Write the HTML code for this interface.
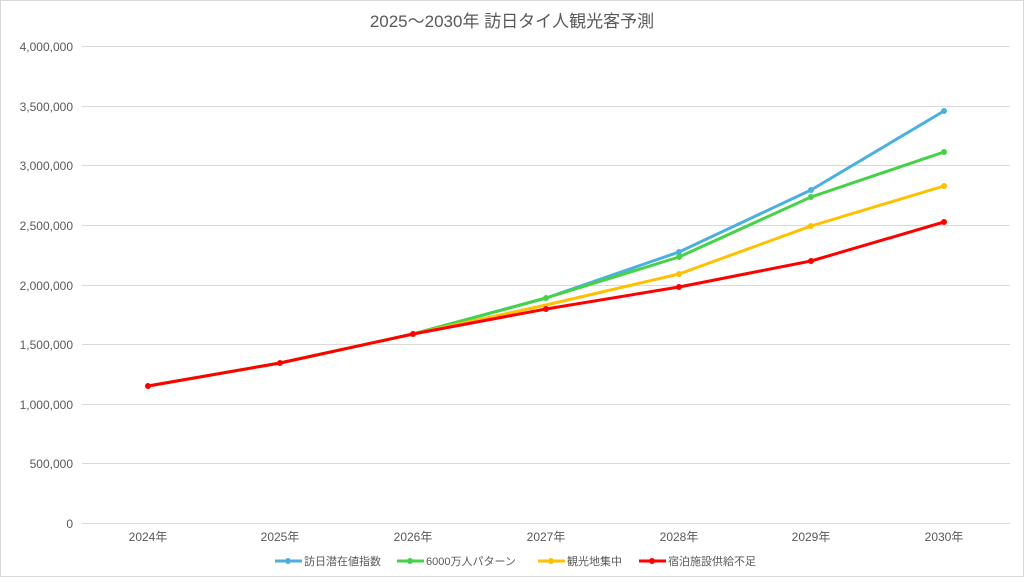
<!DOCTYPE html><html><head><meta charset="utf-8"><style>body{margin:0;background:#fff}svg text{font-family:"Liberation Sans","Noto Sans CJK JP",sans-serif}</style></head><body>
<svg width="1024" height="577" xmlns="http://www.w3.org/2000/svg">
<rect x="0.5" y="0.5" width="1023" height="576" fill="#fff" stroke="#d9d9d9"/>
<text x="512" y="27" font-size="17" fill="#595959" text-anchor="middle">2025～2030年  訪日タイ人観光客予測</text>
<g stroke="#d9d9d9" stroke-width="1">
<line x1="82" x2="1010" y1="46.5" y2="46.5"/><line x1="82" x2="1010" y1="106.5" y2="106.5"/><line x1="82" x2="1010" y1="165.5" y2="165.5"/><line x1="82" x2="1010" y1="225.5" y2="225.5"/><line x1="82" x2="1010" y1="285.5" y2="285.5"/><line x1="82" x2="1010" y1="344.5" y2="344.5"/><line x1="82" x2="1010" y1="404.5" y2="404.5"/><line x1="82" x2="1010" y1="463.5" y2="463.5"/><line x1="82" x2="1010" y1="523.5" y2="523.5"/></g>
<g font-size="12" fill="#595959" text-anchor="end">
<text x="73" y="51">4,000,000</text><text x="73" y="111">3,500,000</text><text x="73" y="170">3,000,000</text><text x="73" y="230">2,500,000</text><text x="73" y="290">2,000,000</text><text x="73" y="349">1,500,000</text><text x="73" y="409">1,000,000</text><text x="73" y="468">500,000</text><text x="73" y="528">0</text></g>
<g font-size="12" fill="#595959" text-anchor="middle">
<text x="148" y="541">2024年</text><text x="280" y="541">2025年</text><text x="413" y="541">2026年</text><text x="546" y="541">2027年</text><text x="679" y="541">2028年</text><text x="811" y="541">2029年</text><text x="944" y="541">2030年</text></g>
<g fill="none" stroke-width="3" stroke-linejoin="round">
<polyline stroke="#4bb0e0" points="148,386 280,363 413,334 546,298 679,252 811,190 944,111"/>
<polyline stroke="#46d246" points="148,386 280,363 413,334 546,298 679,257 811,197 944,152"/>
<polyline stroke="#ffc000" points="148,386 280,363 413,334 546,305 679,274 811,226 944,186"/>
<polyline stroke="#ff0000" points="148,386 280,363 413,334 546,309 679,287 811,261 944,222"/>
</g>
<g fill="#4bb0e0"><circle cx="679" cy="252" r="3"/><circle cx="811" cy="190" r="3"/><circle cx="944" cy="111" r="3"/></g>
<g fill="#46d246"><circle cx="546" cy="298" r="3"/><circle cx="679" cy="257" r="3"/><circle cx="811" cy="197" r="3"/><circle cx="944" cy="152" r="3"/></g>
<g fill="#ffc000"><circle cx="679" cy="274" r="3"/><circle cx="811" cy="226" r="3"/><circle cx="944" cy="186" r="3"/></g>
<g fill="#ff0000"><circle cx="148" cy="386" r="3"/><circle cx="280" cy="363" r="3"/><circle cx="413" cy="334" r="3"/><circle cx="546" cy="309" r="3"/><circle cx="679" cy="287" r="3"/><circle cx="811" cy="261" r="3"/><circle cx="944" cy="222" r="3"/></g>
<g font-size="11" fill="#595959">
<line x1="275" x2="302" y1="561" y2="561" stroke="#4bb0e0" stroke-width="3"/><circle cx="288" cy="561" r="3" fill="#4bb0e0"/><text x="304" y="565">訪日潜在値指数</text>
<line x1="397" x2="424" y1="561" y2="561" stroke="#46d246" stroke-width="3"/><circle cx="410" cy="561" r="3" fill="#46d246"/><text x="426" y="565">6000万人パターン</text>
<line x1="538" x2="565" y1="561" y2="561" stroke="#ffc000" stroke-width="3"/><circle cx="551" cy="561" r="3" fill="#ffc000"/><text x="567" y="565">観光地集中</text>
<line x1="639" x2="666" y1="561" y2="561" stroke="#ff0000" stroke-width="3"/><circle cx="652" cy="561" r="3" fill="#ff0000"/><text x="668" y="565">宿泊施設供給不足</text>
</g>
</svg></body></html>
